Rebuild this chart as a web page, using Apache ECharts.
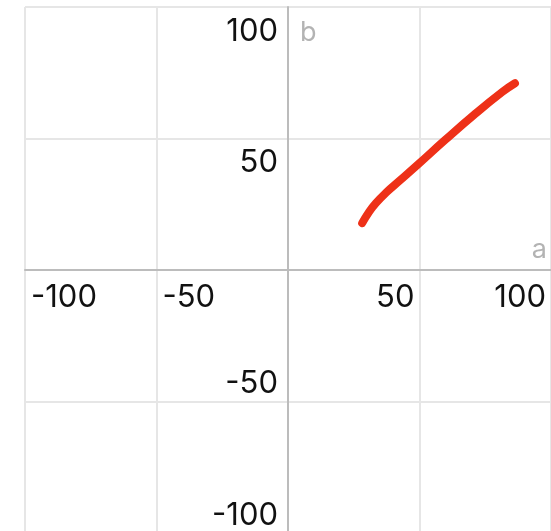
<!DOCTYPE html>
<html>
<head>
<meta charset="utf-8">
<script src="https://cdn.jsdelivr.net/npm/echarts@6/dist/echarts.min.js"></script>
<style>
  html, body { margin: 0; padding: 0; background: #fff; }
  #chart { width: 551px; height: 531px; }
</style>
</head>
<body>
<div id="chart"></div>
<script>
// Curve samples (a, b)
const aValues = [28.2, 30.5, 33.5, 37.5, 42.5, 49.5, 59.7, 70.5, 81.5, 86.3];
const bValues = [17.8, 21.6, 25.5, 29.6, 34.0, 40.2, 49.4, 58.8, 67.7, 71.0];

// Axis range and tick spacing
const axisMin = -100;
const axisMax = 100;
const axisStep = 50;

// Plot box (px)
const plotLeft = 25;
const plotTop = 7;
const plotSize = 526;
// Distance from the plot edge to the zero line, used to place the label rows
const zeroShift = plotSize * (0 - axisMin) / (axisMax - axisMin);

const FONT = 'Inter, "Liberation Sans", sans-serif';
const gridColor = '#e6e6e6';
const axisColor = '#bcbcbc';
const labelColor = '#111';
const nameColor = '#b3b3b3';

const chart = echarts.init(document.getElementById('chart'), null, { renderer: 'canvas' });

const baseAxis = {
  type: 'value',
  min: axisMin,
  max: axisMax,
  interval: axisStep,
  axisTick: { show: false }
};

const labelStyle = {
  color: labelColor,
  fontSize: 31,
  fontFamily: FONT,
  showMinLabel: true,
  showMaxLabel: true,
  hideOverlap: false
};

chart.setOption({
  animation: false,
  grid: { left: plotLeft, top: plotTop, width: plotSize, height: plotSize, containLabel: false, outerBoundsMode: 'none' },
  xAxis: [
    Object.assign({}, baseAxis, {
      name: 'a',
      nameLocation: 'end',
      nameGap: -4,
      nameTextStyle: { color: nameColor, fontSize: 27, fontFamily: FONT, align: 'right', verticalAlign: 'bottom', padding: [0, 0, 7, 0] },
      axisLine: { show: true, onZero: true, onZeroAxisIndex: 0, lineStyle: { color: axisColor, width: 2 } },
      splitLine: { show: true, lineStyle: { color: gridColor, width: 2 } },
      axisLabel: { show: false }
    }),
    // label row for negative a values
    Object.assign({}, baseAxis, {
      position: 'bottom',
      offset: -(plotSize - zeroShift),
      axisLine: { show: false, onZero: false },
      splitLine: { show: false },
      axisLabel: Object.assign({}, labelStyle, {
        margin: 12,
        align: 'left',
        padding: [0, 0, 0, 6],
        formatter: v => (v < 0 ? String(v) : '')
      })
    }),
    // label row for positive a values
    Object.assign({}, baseAxis, {
      position: 'bottom',
      offset: -(plotSize - zeroShift),
      axisLine: { show: false, onZero: false },
      splitLine: { show: false },
      axisLabel: Object.assign({}, labelStyle, {
        margin: 12,
        align: 'right',
        padding: [0, 5, 0, 0],
        formatter: v => (v > 0 ? String(v) : '')
      })
    })
  ],
  yAxis: [
    Object.assign({}, baseAxis, {
      position: 'left',
      name: 'b',
      nameLocation: 'end',
      nameGap: -12,
      nameTextStyle: { color: nameColor, fontSize: 27, fontFamily: FONT, align: 'left', verticalAlign: 'top', padding: [0, 0, 0, 12] },
      axisLine: { show: true, onZero: true, onZeroAxisIndex: 0, lineStyle: { color: axisColor, width: 2 } },
      splitLine: { show: true, lineStyle: { color: gridColor, width: 2 } },
      axisLabel: { show: false }
    }),
    // label column for positive b values
    Object.assign({}, baseAxis, {
      position: 'left',
      offset: -zeroShift,
      axisLine: { show: false, onZero: false },
      splitLine: { show: false },
      axisLabel: Object.assign({}, labelStyle, {
        margin: 10,
        verticalAlign: 'top',
        padding: [9, 0, 0, 0],
        formatter: v => (v > 0 ? String(v) : '')
      })
    }),
    // label column for negative b values
    Object.assign({}, baseAxis, {
      position: 'left',
      offset: -zeroShift,
      axisLine: { show: false, onZero: false },
      splitLine: { show: false },
      axisLabel: Object.assign({}, labelStyle, {
        margin: 10,
        verticalAlign: 'bottom',
        padding: [0, 0, 2, 0],
        formatter: v => (v < 0 ? String(v) : '')
      })
    })
  ],
  series: [{
    type: 'line',
    xAxisIndex: 0,
    yAxisIndex: 0,
    data: aValues.map((a, i) => [a, bValues[i]]),
    smooth: true,
    showSymbol: false,
    symbol: 'none',
    clip: false,
    lineStyle: { color: '#ee3118', width: 8, cap: 'round', join: 'round' }
  }]
});
</script>
</body>
</html>
